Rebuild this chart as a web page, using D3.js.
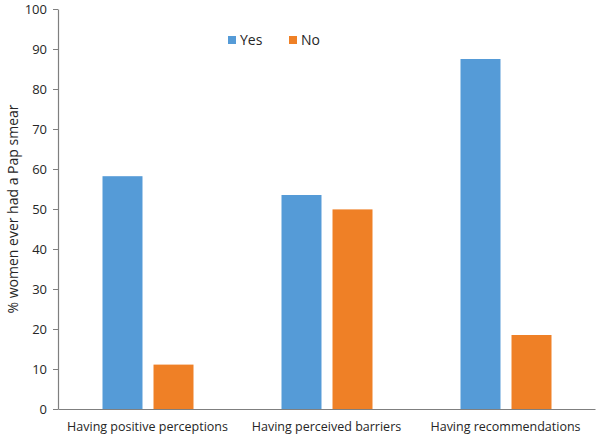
<!DOCTYPE html>
<html>
<head>
<meta charset="utf-8">
<script src="https://cdn.jsdelivr.net/npm/d3@7"></script>
<style>
  body { margin: 0; background: #fff; }
  text { font-family: "Open Sans", sans-serif; fill: #262626; }
</style>
</head>
<body>
<svg id="chart"></svg>
<script>
// Chart data
const categories = ['Having positive perceptions', 'Having perceived barriers', 'Having recommendations'];
const series = ['Yes', 'No'];
const yesValues = [58.2, 53.5, 87.5];
const noValues = [11.1, 49.9, 18.5];
const yTicks = [0, 10, 20, 30, 40, 50, 60, 70, 80, 90, 100];

const WIDTH = 600, HEIGHT = 436;
const margin = { top: 9, right: 5, bottom: 27, left: 58 };
const colors = { Yes: '#559BD7', No: '#EF8026' };

const svg = d3.select('#chart')
  .attr('width', WIDTH)
  .attr('height', HEIGHT);

// Scales
const x0 = d3.scaleBand()
  .domain(categories)
  .range([margin.left, WIDTH - margin.right])
  .padding(0);

const x1 = d3.scaleBand()
  .domain(series)
  .range([44.5, 135.5])
  .paddingInner(0.216);

const y = d3.scaleLinear()
  .domain([0, 100])
  .range([HEIGHT - margin.bottom, margin.top]);

const rows = categories.map((c, i) => ({ category: c, Yes: yesValues[i], No: noValues[i] }));

// Bars
const group = svg.selectAll('.group')
  .data(rows)
  .enter().append('g')
  .attr('class', 'group')
  .attr('transform', d => `translate(${x0(d.category)},0)`);

group.selectAll('rect')
  .data(d => series.map(s => ({ key: s, value: d[s] })))
  .enter().append('rect')
  .attr('x', d => x1(d.key))
  .attr('y', d => y(d.value))
  .attr('width', x1.bandwidth())
  .attr('height', d => y(0) - y(d.value))
  .attr('fill', d => colors[d.key]);

// Y axis
const yAxis = svg.append('g')
  .attr('transform', `translate(${margin.left},0)`)
  .call(d3.axisLeft(y).tickValues(yTicks).tickSize(5).tickPadding(6).tickSizeOuter(0));
yAxis.select('.domain').attr('stroke', '#7f7f7f').attr('stroke-width', 1.2);
yAxis.selectAll('.tick line').attr('stroke', '#7f7f7f');
yAxis.selectAll('.tick text').attr('font-size', '13px').attr('fill', '#262626')
  .style('font-family', '"Open Sans", sans-serif');

// X axis
const xAxis = svg.append('g')
  .attr('transform', `translate(0,${y(0)})`)
  .call(d3.axisBottom(x0).tickSize(0).tickPadding(13));
xAxis.select('.domain').attr('stroke', '#7f7f7f').attr('stroke-width', 1.2);
xAxis.selectAll('.tick text').attr('font-size', '12.5px').attr('fill', '#262626')
  .style('font-family', '"Open Sans", sans-serif');

// Y axis title
svg.append('text')
  .attr('transform', `translate(18,${(y(0) + y(100)) / 2}) rotate(-90)`)
  .attr('text-anchor', 'middle')
  .attr('font-size', '14px')
  .text('% women ever had a Pap smear');

// Legend
const legend = svg.append('g').attr('transform', 'translate(228,36)');
const item = legend.selectAll('.legend-item')
  .data(series)
  .enter().append('g')
  .attr('class', 'legend-item')
  .attr('transform', (d, i) => `translate(${i * 61},0)`);
item.append('rect')
  .attr('width', 8)
  .attr('height', 8)
  .attr('fill', d => colors[d]);
item.append('text')
  .attr('x', 12)
  .attr('y', 9)
  .attr('font-size', '14px')
  .text(d => d);
</script>
</body>
</html>
